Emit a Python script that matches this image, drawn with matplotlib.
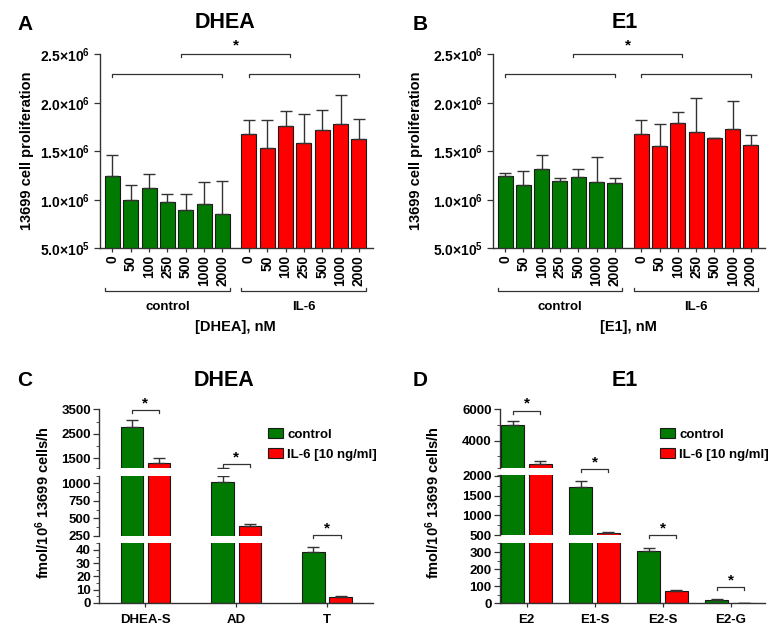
import matplotlib
matplotlib.use("Agg")
import matplotlib.pyplot as plt
from matplotlib.patches import Patch
from matplotlib.ticker import FixedLocator
import matplotlib.transforms as mtrans
import numpy as np

plt.rcParams['font.family'] = ['Liberation Sans', 'DejaVu Sans']
plt.rcParams['font.weight'] = 'bold'
plt.rcParams['mathtext.fontset'] = 'custom'
plt.rcParams['mathtext.rm'] = 'Liberation Sans:bold'
plt.rcParams['mathtext.bf'] = 'Liberation Sans:bold'
plt.rcParams['mathtext.default'] = 'bf'

# ---------------- data ----------------
concs = ['0', '50', '100', '250', '500', '1000', '2000']

A_ctrl = [1.241e6, 0.997e6, 1.117e6, 0.973e6, 0.894e6, 0.953e6, 0.857e6]
A_ctrl_err = [0.226e6, 0.158e6, 0.145e6, 0.083e6, 0.162e6, 0.230e6, 0.333e6]
A_il6 = [1.683e6, 1.539e6, 1.759e6, 1.581e6, 1.721e6, 1.780e6, 1.625e6]
A_il6_err = [0.138e6, 0.282e6, 0.154e6, 0.308e6, 0.206e6, 0.298e6, 0.209e6]

B_ctrl = [1.241e6, 1.152e6, 1.320e6, 1.193e6, 1.238e6, 1.186e6, 1.172e6]
B_ctrl_err = [0.031e6, 0.147e6, 0.147e6, 0.031e6, 0.075e6, 0.251e6, 0.055e6]
B_il6 = [1.683e6, 1.553e6, 1.790e6, 1.697e6, 1.632e6, 1.728e6, 1.560e6]
B_il6_err = [0.138e6, 0.227e6, 0.110e6, 0.354e6, 0.0, 0.295e6, 0.103e6]

C_cats = ['DHEA-S', 'AD', 'T']
C_ctrl = [2780, 1010, 38.7]
C_ctrl_err = [280, 84, 3.4]
C_il6 = [1300, 395, 4.6]
C_il6_err = [200, 24, 0.5]

D_cats = ['E2', 'E1-S', 'E2-S', 'E2-G']
D_ctrl = [4980, 1713, 307, 17.6]
D_ctrl_err = [253, 152, 20, 5]
D_il6 = [2505, 558, 71, 2]
D_il6_err = [172, 30, 7, 1]

GREEN = '#007a00'
RED = '#ff0000'
EDGE = '#1a1a1a'
LINE = '#333333'

W, H = 781, 632
fig = plt.figure(figsize=(W / 100, H / 100), dpi=100)


def axpx(l, t, r, b):
    return fig.add_axes([l / W, 1 - b / H, (r - l) / W, (b - t) / H])


def fy(py):
    return 1 - py / H


def style_ax(ax, bottom=True):
    for s in ['top', 'right']:
        ax.spines[s].set_visible(False)
    ax.spines['left'].set_color(LINE)
    ax.spines['bottom'].set_color(LINE)
    ax.spines['left'].set_linewidth(1.0)
    ax.spines['bottom'].set_linewidth(1.0)
    if not bottom:
        ax.spines['bottom'].set_visible(False)
        ax.tick_params(axis='x', bottom=False, labelbottom=False)
    ax.tick_params(axis='both', colors=LINE, labelcolor='black', width=0.9)
    ax.set_facecolor('none')


# ---------------- panels A and B ----------------
def top_panel(l, r, ctrl, ctrl_err, il6, il6_err, letter, title, xlabel, ylab_px, xlab_px,
              letter_x, title_x):
    ax = axpx(l, 54.3, r, 248.3)
    style_ax(ax)
    pos_c = np.arange(len(concs))
    pos_i = pos_c + 7.45
    w = 0.82
    ax.bar(pos_c, ctrl, width=w, bottom=0, color=GREEN, edgecolor=EDGE, linewidth=0.8, zorder=2)
    ax.bar(pos_i, il6, width=w, bottom=0, color=RED, edgecolor=EDGE, linewidth=0.8, zorder=2)
    ax.errorbar(pos_c, ctrl, yerr=[np.zeros(7), ctrl_err], fmt='none', ecolor=LINE,
                elinewidth=1.0, capsize=4, capthick=1.0, zorder=3)
    ax.errorbar(pos_i, il6, yerr=[np.zeros(7), il6_err], fmt='none', ecolor=LINE,
                elinewidth=1.0, capsize=4, capthick=1.0, zorder=3)
    ax.set_ylim(5e5, 2.5e6)
    ax.set_xlim(-0.68, 14.22)
    yt = [5e5, 1e6, 1.5e6, 2e6, 2.5e6]
    ax.set_yticks(yt)
    ax.set_yticklabels(['5.0×10$^{5}$', '1.0×10$^{6}$', '1.5×10$^{6}$', '2.0×10$^{6}$', '2.5×10$^{6}$'],
                       fontsize=10, fontweight='bold')
    ax.set_xticks(list(pos_c) + list(pos_i))
    ax.set_xticklabels(concs + concs, rotation=90, fontsize=10, fontweight='bold')
    ax.tick_params(axis='y', length=4, pad=3)
    ax.tick_params(axis='x', length=3, pad=2)
    fig.text(ylab_px / W, fy(151), '13699 cell proliferation', rotation=90, ha='center',
             va='center', fontsize=10.5, fontweight='bold')
    # significance brackets
    tk = 0.03e6
    for (x0, x1, y) in [(3.73, 9.7, 2.5e6), (0.0, 6.0, 2.3e6), (7.45, 13.45, 2.3e6)]:
        ax.plot([x0, x0, x1, x1], [y - tk, y, y, y - tk], color=LINE, lw=0.9, clip_on=False)
    ax.text((3.73 + 9.7) / 2, 2.5e6 + 0.09e6, '*', ha='center', va='center', fontsize=11,
            fontweight='bold', clip_on=False)
    # group brackets below
    bt = mtrans.blended_transform_factory(ax.transData, ax.transAxes)
    ytb = -0.22
    for (x0, x1, name) in [(pos_c[0] - w / 2, pos_c[-1] + w / 2, 'control'),
                           (pos_i[0] - w / 2, pos_i[-1] + w / 2, 'IL-6')]:
        ax.plot([x0, x0, x1, x1], [ytb + 0.016, ytb, ytb, ytb + 0.016], color=LINE, lw=0.9,
                transform=bt, clip_on=False)
        ax.text((x0 + x1) / 2, -0.30, name, transform=bt, ha='center', va='center',
                fontsize=9.5, fontweight='bold')
    fig.text(xlab_px / W, fy(327), xlabel, ha='center', va='center', fontsize=10.5,
             fontweight='bold')
    fig.text(letter_x / W, fy(25), letter, ha='center', va='center', fontsize=15, fontweight='bold')
    fig.text(title_x / W, fy(23), title, ha='center', va='center', fontsize=15.5, fontweight='bold')
    return ax


axA = top_panel(100, 373, A_ctrl, A_ctrl_err, A_il6, A_il6_err, 'A', 'DHEA', '[DHEA], nM',
                27, 235, 25, 225)
axB = top_panel(492.7, 765, B_ctrl, B_ctrl_err, B_il6, B_il6_err, 'B', 'E1', '[E1], nM',
                416, 628, 420, 625)


# ---------------- panels C and D (broken axes) ----------------
def broken_panel(l, r, segs, cats, ctrl, ctrl_err, il6, il6_err, xlim, w, off,
                 brackets, letter, title, letter_x, title_x, ylab_x, leg_x):
    axes = []
    x = np.arange(len(cats))
    for i, (t, b, lo, hi, major, minor) in enumerate(segs):
        ax = axpx(l, t, r, b)
        last = (i == len(segs) - 1)
        style_ax(ax, bottom=last)
        ax.bar(x - off, ctrl, width=w, color=GREEN, edgecolor=EDGE, linewidth=0.8, zorder=2)
        ax.bar(x + off, il6, width=w, color=RED, edgecolor=EDGE, linewidth=0.8, zorder=2)
        ax.errorbar(x - off, ctrl, yerr=[np.zeros(len(x)), ctrl_err], fmt='none', ecolor=LINE,
                    elinewidth=1.0, capsize=4.5, capthick=1.0, zorder=3)
        ax.errorbar(x + off, il6, yerr=[np.zeros(len(x)), il6_err], fmt='none', ecolor=LINE,
                    elinewidth=1.0, capsize=4.5, capthick=1.0, zorder=3)
        ax.set_ylim(lo, hi)
        ax.set_xlim(*xlim)
        ax.set_yticks(major)
        ax.set_yticklabels([str(v) for v in major], fontsize=9.5, fontweight='bold')
        ax.yaxis.set_minor_locator(FixedLocator(minor + [lo, hi]))
        ax.tick_params(axis='y', which='major', length=4, pad=2)
        ax.tick_params(axis='y', which='minor', length=2.5, color=LINE)
        if last:
            ax.set_xticks(x)
            ax.set_xticklabels(cats, fontsize=9.5, fontweight='bold')
            ax.tick_params(axis='x', length=3, pad=5)
        axes.append(ax)
    low = axes[-1]
    bt = mtrans.blended_transform_factory(low.transData, fig.transFigure)
    for (gi, py, sy) in brackets:
        x0, x1 = gi - off, gi + off
        low.plot([x0, x0, x1, x1], [fy(py + 3), fy(py), fy(py), fy(py + 3)], color=LINE, lw=0.9,
                 transform=bt, clip_on=False)
        low.text(gi, fy(sy), '*', transform=bt, ha='center', va='center', fontsize=11,
                 fontweight='bold', clip_on=False)
    fig.text(letter_x / W, fy(380), letter, ha='center', va='center', fontsize=15, fontweight='bold')
    fig.text(title_x / W, fy(380), title, ha='center', va='center', fontsize=15.5, fontweight='bold')
    fig.text(ylab_x / W, fy(503), 'fmol/10$^{6}$ 13699 cells/h', rotation=90, ha='center',
             va='center', fontsize=10.5, fontweight='bold')
    handles = [Patch(facecolor=GREEN, edgecolor=EDGE, linewidth=0.8),
               Patch(facecolor=RED, edgecolor=EDGE, linewidth=0.8)]
    axes[0].legend(handles, ['control', 'IL-6 [10 ng/ml]'], loc='upper left',
                   bbox_to_anchor=(leg_x / W, fy(428)), bbox_transform=fig.transFigure,
                   frameon=False, prop={'size': 9.5, 'weight': 'bold'},
                   handlelength=1.1, handleheight=0.8, handletextpad=0.35,
                   labelspacing=0.55, borderpad=0, borderaxespad=0)
    return axes


segC = [(409.3, 468.3, 1100, 3500, [1500, 2500, 3500], [2000, 3000]),
        (476.0, 536.0, 250, 1100, [250, 500, 750, 1000], [375, 625, 875]),
        (543.3, 602.7, 0, 45, [0, 10, 20, 30, 40], [5, 15, 25, 35])]
broken_panel(99.3, 372.7, segC, C_cats, C_ctrl, C_ctrl_err, C_il6, C_il6_err,
             (-0.506, 2.503), 0.245, 0.149,
             [(0, 410, 403), (1, 464.3, 457.5), (2, 535, 528)],
             'C', 'DHEA', 25, 224, 43, 268)

segD = [(409.3, 468.3, 2230, 6000, [4000, 6000], [3000, 5000]),
        (475.3, 535.0, 500, 2015, [500, 1000, 1500, 2000], [750, 1250, 1750]),
        (542.7, 603.3, 0, 356, [0, 100, 200, 300], [50, 150, 250])]
broken_panel(500, 765, segD, D_cats, D_ctrl, D_ctrl_err, D_il6, D_il6_err,
             (-0.39, 3.507), 0.338, 0.199,
             [(0, 410.7, 403), (1, 469, 462.5), (2, 535, 528), (3, 586.7, 580.5)],
             'D', 'E1', 420, 625, 433, 660)

fig.savefig('out.png', dpi=100)
